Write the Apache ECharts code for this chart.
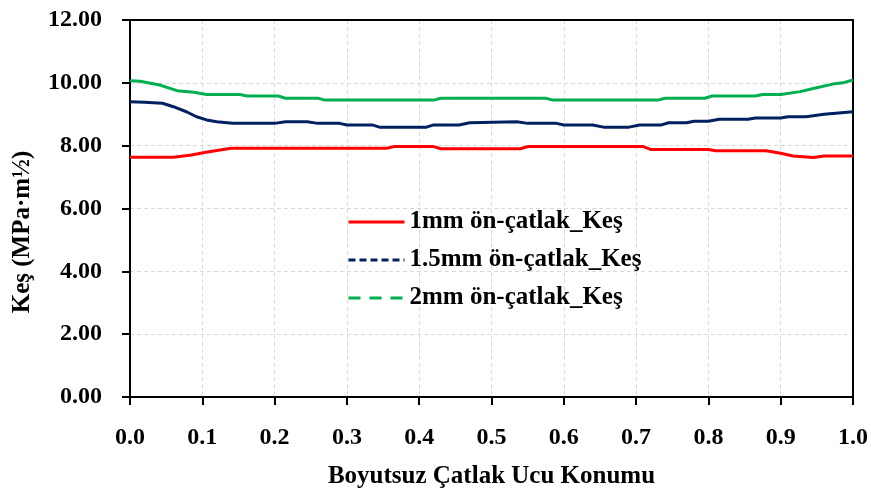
<!DOCTYPE html>
<html>
<head>
<meta charset="utf-8">
<script src="https://cdn.jsdelivr.net/npm/echarts@6/dist/echarts.min.js"></script>
<style>
html,body{margin:0;padding:0;background:#fff;}
#chart{width:871px;height:493px;}
</style>
</head>
<body>
<div id="chart"></div>
<script>
var seriesNames = ['1mm ön-çatlak_Keş', '1.5mm ön-çatlak_Keş', '2mm ön-çatlak_Keş'];
var xAxisTitle = 'Boyutsuz Çatlak Ucu Konumu';
var yAxisTitle = 'Keş (MPa·m½)';

var redX = [0, 0.06, 0.085, 0.105, 0.14, 0.355, 0.365, 0.42, 0.43, 0.54, 0.55, 0.71, 0.72, 0.80, 0.81, 0.88, 0.90, 0.917, 0.945, 0.96, 1.0];
var redY = [7.63, 7.63, 7.70, 7.79, 7.92, 7.92, 7.97, 7.97, 7.90, 7.90, 7.97, 7.97, 7.88, 7.88, 7.84, 7.84, 7.76, 7.67, 7.62, 7.67, 7.67];

var blueX = [0, 0.02, 0.045, 0.06, 0.078, 0.092, 0.106, 0.12, 0.142, 0.20, 0.215, 0.245, 0.26, 0.29, 0.30, 0.335, 0.345, 0.41, 0.42, 0.455, 0.47, 0.535, 0.55, 0.59, 0.60, 0.64, 0.655, 0.69, 0.705, 0.735, 0.745, 0.77, 0.78, 0.80, 0.815, 0.855, 0.865, 0.90, 0.91, 0.935, 0.96, 0.98, 1.0];
var blueY = [9.40, 9.38, 9.35, 9.24, 9.08, 8.92, 8.82, 8.76, 8.71, 8.71, 8.76, 8.76, 8.71, 8.71, 8.66, 8.66, 8.59, 8.59, 8.66, 8.66, 8.73, 8.76, 8.71, 8.71, 8.66, 8.66, 8.59, 8.59, 8.66, 8.66, 8.73, 8.73, 8.78, 8.78, 8.84, 8.84, 8.88, 8.88, 8.92, 8.92, 9.00, 9.04, 9.08];

var greenX = [0, 0.014, 0.041, 0.065, 0.088, 0.106, 0.152, 0.162, 0.205, 0.215, 0.26, 0.27, 0.42, 0.43, 0.575, 0.585, 0.73, 0.74, 0.795, 0.805, 0.865, 0.875, 0.90, 0.927, 0.945, 0.972, 0.986, 1.0];
var greenY = [10.07, 10.05, 9.93, 9.75, 9.70, 9.63, 9.63, 9.58, 9.58, 9.51, 9.51, 9.45, 9.45, 9.51, 9.51, 9.45, 9.45, 9.51, 9.51, 9.58, 9.58, 9.63, 9.63, 9.72, 9.82, 9.96, 10.00, 10.09];

function pairs(xs, ys) { return xs.map(function (x, i) { return [x, ys[i]]; }); }

var FONT = "'Liberation Serif', 'Times New Roman', serif";
var colors = ['#FF0000', '#002060', '#00B050'];

var chart = echarts.init(document.getElementById('chart'), null, {renderer: 'canvas'});
chart.setOption({
  animation: false,
  backgroundColor: '#fff',
  grid: {left: 130, right: 18, top: 20, bottom: 96, containLabel: false, outerBoundsMode: 'none',
    show: false},
  xAxis: [{
    type: 'value', min: 0, max: 1, interval: 0.1,
    name: xAxisTitle, nameLocation: 'middle', nameGap: 67,
    nameTextStyle: {fontFamily: FONT, fontWeight: 'bold', fontSize: 25, color: '#000'},
    axisLine: {show: true, onZero: false, lineStyle: {color: '#000', width: 2}},
    axisTick: {show: true, length: 8, lineStyle: {color: '#000', width: 2}},
    axisLabel: {margin: 29, fontFamily: FONT, fontWeight: 'bold', fontSize: 24, color: '#000',
      formatter: function (v) { return v.toFixed(1); }},
    splitLine: {show: true, showMinLine: false, showMaxLine: false, lineStyle: {color: '#D9D9D9', type: [4, 3], width: 1}}
  }, {
    type: 'value', min: 0, max: 1, position: 'top',
    axisLine: {show: true, onZero: false, lineStyle: {color: '#000', width: 2}},
    axisTick: {show: false}, axisLabel: {show: false}, splitLine: {show: false}
  }],
  yAxis: [{
    type: 'value', min: 0, max: 12, interval: 2,
    axisLine: {show: true, onZero: false, lineStyle: {color: '#000', width: 2}},
    axisTick: {show: true, length: 8, lineStyle: {color: '#000', width: 2}},
    axisLabel: {margin: 28, fontFamily: FONT, fontWeight: 'bold', fontSize: 24, color: '#000',
      formatter: function (v) { return v.toFixed(2); }},
    splitLine: {show: true, showMinLine: false, showMaxLine: false, lineStyle: {color: '#D9D9D9', type: [4, 3], width: 1}}
  }, {
    type: 'value', min: 0, max: 12, position: 'right',
    axisLine: {show: true, onZero: false, lineStyle: {color: '#000', width: 2}},
    axisTick: {show: false}, axisLabel: {show: false}, splitLine: {show: false}
  }],
  legend: {
    orient: 'vertical', left: 347, top: 209, padding: 0,
    itemWidth: 56, itemHeight: 14, itemGap: 12,
    textStyle: {fontFamily: FONT, fontWeight: 'bold', fontSize: 25, color: '#000', lineHeight: 26},
    data: [
      {name: seriesNames[0], itemStyle: {opacity: 0}, lineStyle: {type: 'solid', width: 3}},
      {name: seriesNames[1], itemStyle: {opacity: 0}, lineStyle: {type: [7, 4], width: 3}},
      {name: seriesNames[2], itemStyle: {opacity: 0}, lineStyle: {type: [12, 9], width: 3}}
    ]
  },
  graphic: [{
    type: 'text', x: 23, y: 232, rotation: Math.PI / 2,
    style: {text: yAxisTitle, font: "bold 25px " + FONT, fill: '#000', textAlign: 'center', textVerticalAlign: 'middle'}
  }],
  series: [
    {name: seriesNames[0], type: 'line', data: pairs(redX, redY), symbol: 'none', lineStyle: {color: colors[0], width: 3}, itemStyle: {color: colors[0]}},
    {name: seriesNames[1], type: 'line', data: pairs(blueX, blueY), symbol: 'none', lineStyle: {color: colors[1], width: 3}, itemStyle: {color: colors[1]}},
    {name: seriesNames[2], type: 'line', data: pairs(greenX, greenY), symbol: 'none', lineStyle: {color: colors[2], width: 3}, itemStyle: {color: colors[2]}}
  ]
});
</script>
</body>
</html>
